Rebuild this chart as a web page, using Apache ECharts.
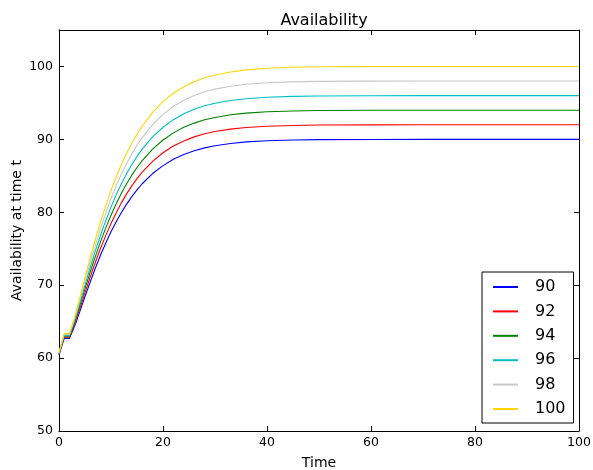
<!DOCTYPE html>
<html>
<head>
<meta charset="utf-8">
<script src="https://cdn.jsdelivr.net/npm/echarts@6/dist/echarts.min.js"></script>
<style>
  html, body { margin: 0; padding: 0; background: #fff; }
  #chart { width: 593px; height: 470px; }
</style>
</head>
<body>
<div id="chart"></div>
<script>
// Sample times (same for every curve)
const times = [0, 1, 2, 3, 4, 5, 6, 7, 8, 9, 10, 11, 12, 13, 14, 15, 16, 18, 20, 22, 24, 26, 28, 30, 33, 36, 40, 45, 50, 60, 70, 80, 90, 100];

// Availability at time t for each steady-state level
const avail90  = [60.4, 62.7, 62.7, 64.37, 66.39, 68.44, 70.44, 72.35, 74.13, 75.79, 77.32, 78.71, 79.97, 81.12, 82.15, 83.08, 83.91, 85.31, 86.40, 87.26, 87.93, 88.44, 88.83, 89.13, 89.44, 89.65, 89.81, 89.92, 89.96, 89.99, 90, 90, 90, 90];
const avail92  = [60.5, 62.85, 62.85, 64.64, 66.79, 68.98, 71.12, 73.15, 75.06, 76.83, 78.46, 79.94, 81.29, 82.52, 83.62, 84.61, 85.50, 86.99, 88.16, 89.08, 89.79, 90.34, 90.76, 91.07, 91.41, 91.62, 91.80, 91.91, 91.96, 91.99, 92, 92, 92, 92];
const avail94  = [60.55, 63.0, 63.0, 64.90, 67.19, 69.52, 71.79, 73.96, 75.98, 77.86, 79.60, 81.18, 82.61, 83.92, 85.09, 86.14, 87.09, 88.67, 89.91, 90.89, 91.65, 92.23, 92.68, 93.01, 93.37, 93.60, 93.79, 93.90, 93.96, 93.99, 94, 94, 94, 94];
const avail96  = [60.6, 63.1, 63.1, 65.12, 67.54, 70.02, 72.43, 74.73, 76.88, 78.88, 80.71, 82.39, 83.92, 85.30, 86.54, 87.66, 88.66, 90.34, 91.66, 92.70, 93.51, 94.12, 94.60, 94.95, 95.33, 95.58, 95.77, 95.90, 95.95, 95.99, 96, 96, 96, 96];
const avail98  = [60.7, 63.25, 63.25, 65.38, 67.94, 70.56, 73.11, 75.53, 77.80, 79.91, 81.86, 83.63, 85.24, 86.70, 88.01, 89.19, 90.25, 92.03, 93.42, 94.52, 95.37, 96.02, 96.52, 96.89, 97.29, 97.55, 97.76, 97.89, 97.95, 97.99, 98, 98, 98, 98];
const avail100 = [60.8, 63.35, 63.35, 65.60, 68.30, 71.06, 73.74, 76.30, 78.70, 80.92, 82.97, 84.84, 86.54, 88.08, 89.47, 90.71, 91.83, 93.70, 95.17, 96.33, 97.22, 97.91, 98.44, 98.83, 99.25, 99.53, 99.75, 99.89, 99.95, 99.99, 100, 100, 100, 100];

const seriesNames = ['90', '92', '94', '96', '98', '100'];
const seriesValues = [avail90, avail92, avail94, avail96, avail98, avail100];
const seriesColors = ['#0000ff', '#ff0000', '#008000', '#00bfbf', '#c8c8c8', '#ffd700'];

const xTicks = { min: 0, max: 100, interval: 20 };
const yTicks = { min: 50, max: 105, interval: 10 };

const FONT = 'DejaVu Sans';
const frame = { show: true, onZero: false, lineStyle: { color: '#000', width: 1 } };
const tickIn = { show: true, inside: true, length: 5, lineStyle: { color: '#000', width: 1 } };
const labelStyle = { color: '#000', fontFamily: FONT, fontSize: 12.5 };

const chart = echarts.init(document.getElementById('chart'), null, { renderer: 'canvas' });

chart.setOption({
  animation: false,
  backgroundColor: '#fff',
  title: {
    text: 'Availability',
    left: 319, top: 8, textAlign: 'center',
    textStyle: { fontFamily: FONT, fontSize: 16, fontWeight: 'normal', color: '#000' }
  },
  grid: { left: 59, right: 14, top: 30, bottom: 39, containLabel: false, outerBoundsMode: 'none' },
  legend: {
    orient: 'vertical',
    left: 482, top: 272,
    padding: [7, 8, 6, 11],
    itemGap: 8.4,
    itemWidth: 25, itemHeight: 2,
    icon: 'rect',
    borderColor: '#000', borderWidth: 1, backgroundColor: '#fff',
    textStyle: { fontFamily: FONT, fontSize: 16, color: '#000', lineHeight: 16, padding: [0, 0, 0, 12] },
    data: seriesNames
  },
  xAxis: [
    {
      type: 'value', min: xTicks.min, max: xTicks.max, interval: xTicks.interval,
      name: 'Time', nameLocation: 'middle', nameGap: 25, nameMoveOverlap: false,
      nameTextStyle: { fontFamily: FONT, fontSize: 14, color: '#000' },
      axisLine: frame, axisTick: tickIn,
      axisLabel: Object.assign({ margin: 5 }, labelStyle),
      splitLine: { show: false }
    },
    {
      type: 'value', position: 'top', min: xTicks.min, max: xTicks.max, interval: xTicks.interval,
      axisLine: frame, axisTick: tickIn, axisLabel: { show: false }, splitLine: { show: false }
    }
  ],
  yAxis: [
    {
      type: 'value', min: yTicks.min, max: yTicks.max, interval: yTicks.interval,
      name: 'Availability at time t', nameLocation: 'middle', nameGap: 35, nameRotate: 90,
      nameMoveOverlap: false,
      nameTextStyle: { fontFamily: FONT, fontSize: 14, color: '#000' },
      axisLine: frame, axisTick: tickIn,
      axisLabel: Object.assign({ margin: 6, showMaxLabel: false }, labelStyle),
      splitLine: { show: false }
    },
    {
      type: 'value', position: 'right', min: yTicks.min, max: yTicks.max, interval: yTicks.interval,
      axisLine: frame, axisTick: tickIn, axisLabel: { show: false }, splitLine: { show: false }
    }
  ],
  series: seriesNames.map((name, i) => ({
    name: name,
    type: 'line',
    xAxisIndex: 0, yAxisIndex: 0,
    showSymbol: false,
    symbol: 'none',
    color: seriesColors[i],
    lineStyle: { color: seriesColors[i], width: 1.1 },
    data: times.map((t, k) => [t, seriesValues[i][k]])
  }))
});
</script>
</body>
</html>
